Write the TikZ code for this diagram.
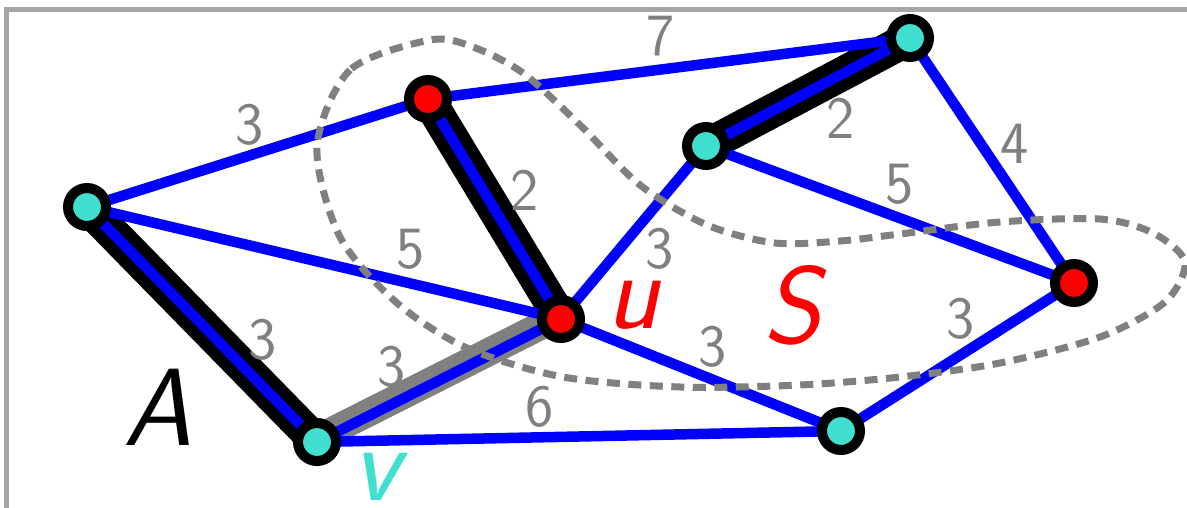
\documentclass[tikz,border=0pt]{standalone}
\definecolor{turq}{RGB}{64,224,208}
\definecolor{labelgray}{RGB}{128,128,128}
\definecolor{framegray}{RGB}{166,166,166}
\begin{document}
\begin{tikzpicture}[x=1pt,y=-1pt,
  edge/.style={draw=blue,line width=10.5pt},
  treeedge/.style={draw=black,line width=34pt,line cap=round},
  candedge/.style={draw=labelgray,line width=28pt,line cap=round},
  vert/.style={circle,draw=black,line width=10pt,minimum size=38pt,inner sep=0pt},
  wt/.style={text=labelgray,font=\sffamily\fontsize{60}{60}\selectfont,inner sep=0pt},
  big/.style={font=\sffamily\itshape\fontsize{110}{110}\selectfont,inner sep=0pt},
  cut/.style={draw=labelgray,line width=7pt,dash pattern=on 13pt off 8.5pt}]
\clip (0,0) rectangle (1187,508);
\useasboundingbox (0,0) rectangle (1187,508);
% frame
\draw[framegray,line width=5pt] (6,530) -- (6,10) -- (1200,10);
% vertex positions
\coordinate (p1) at (87,207);
\coordinate (p2) at (428,99);
\coordinate (p3) at (910,38);
\coordinate (p4) at (706,146);
\coordinate (p5) at (561,319);
\coordinate (p6) at (317,442);
\coordinate (p7) at (841,431);
\coordinate (p8) at (1074,283);
% tree and candidate edges
\draw[treeedge] (p1) -- (p6);
\draw[treeedge] (p2) -- (p5);
\draw[treeedge] (p3) -- (p4);
\draw[candedge] ([shift={(-1.4,-2.7)}]p6) -- ([shift={(-1.4,-2.7)}]p5);
% graph edges
\draw[edge] (p1) -- (p2);
\draw[edge] (p2) -- (p3);
\draw[edge] (p1) -- (p5);
\draw[edge] (p2) -- (p5);
\draw[edge] (p3) -- (p4);
\draw[edge] (p3) -- (p8);
\draw[edge] (p4) -- (p8);
\draw[edge] (p4) -- (p5);
\draw[edge] (p1) -- (p6);
\draw[edge] (p6) -- (p5);
\draw[edge] (p6) -- (p7);
\draw[edge] (p5) -- (p7);
\draw[edge] (p7) -- (p8);
% cut S
\draw[cut] plot[smooth cycle] coordinates {(430,40) (350,70) (317,147) (340,237) (397,303) (467,348) (563,377) (680,387) (800,385) (900,377) (1000,363) (1100,337) (1165,302) (1185,262) (1153,233) (1100,219) (1000,222) (900,234) (840,241) (775,243) (707,225) (640,185) (580,125) (523,73) (473,47)};
% vertices
\node[vert,fill=turq] (n1) at (p1) {};
\node[vert,fill=red] (n2) at (p2) {};
\node[vert,fill=turq] (n3) at (p3) {};
\node[vert,fill=turq] (n4) at (p4) {};
\node[vert,fill=red] (n5) at (p5) {};
\node[vert,fill=turq] (n6) at (p6) {};
\node[vert,fill=turq] (n7) at (p7) {};
\node[vert,fill=red] (n8) at (p8) {};
% weights
\node[wt] (w12) at (250,125) {3};
\node[wt] (w23) at (661,36) {7};
\node[wt] (w34) at (841,118) {2};
\node[wt] (w38) at (1015,144) {4};
\node[wt] (w48) at (900,184) {5};
\node[wt] (w25) at (525,190) {2};
\node[wt] (w15) at (411,249) {5};
\node[wt] (w45) at (660,249) {3};
\node[wt] (w16) at (263,340) {3};
\node[wt] (w65) at (392,367) {3};
\node[wt] (w67) at (540,407) {6};
\node[wt] (w57) at (713,347) {3};
\node[wt] (w78) at (961,319) {3};
% letters
\node[big,text=black] (lA) at (158,407) {A};
\node[big,text=red] (lu) at (633,305) {u};
\node[big,text=red] (lS) at (792,305) {S};
\node[big,text=turq] (lv) at (376,477) {v};
\end{tikzpicture}
\end{document}
